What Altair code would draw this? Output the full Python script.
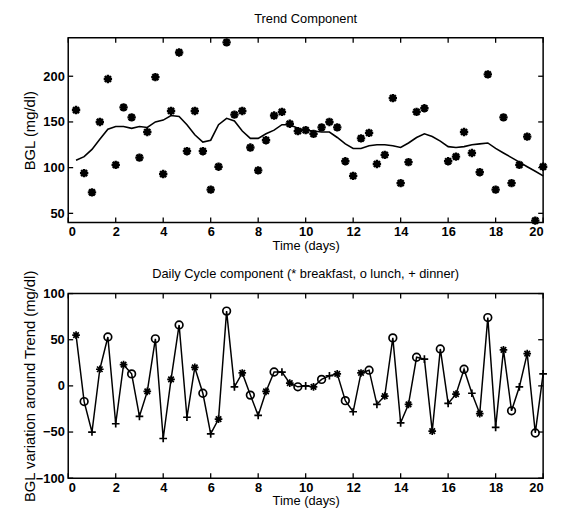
import altair as alt
import pandas as pd

# ---------------- data ----------------
times = [0.33, 0.67, 1.0, 1.33, 1.67, 2.0, 2.33, 2.67, 3.0, 3.33, 3.67, 4.0,
         4.33, 4.67, 5.0, 5.33, 5.67, 6.0, 6.33, 6.67, 7.0, 7.33, 7.67, 8.0,
         8.33, 8.67, 9.0, 9.33, 9.67, 10.0, 10.33, 10.67, 11.0, 11.33, 11.67, 12.0,
         12.33, 12.67, 13.0, 13.33, 13.67, 14.0, 14.33, 14.67, 15.0, 15.33, 15.67, 16.0,
         16.33, 16.67, 17.0, 17.33, 17.67, 18.0, 18.33, 18.67, 19.0, 19.33, 19.67, 20.0]

# measured BGL (mg/dl); two readings are not shown in the top panel
bgl = [163, 94, 73, 150, 197, 103, 166, 155, 111, 139, 199, 93,
       162, 226, 118, 162, 118, 76, 101, 237, 158, 162, 122, 97,
       130, 157, 161, 148, 140, 141, 137, 144, 150, 144, 107, 91,
       132, 138, 104, 114, 176, 83, 106, 161, 165, None, None, 107,
       112, 139, 116, 95, 202, 76, 155, 83, 103, 134, 42, 101]

trend = [108, 112, 120, 131, 142, 145, 145, 143, 145, 144, 150, 152,
         157, 156, 147, 136, 128, 130, 147, 154, 151, 140, 132, 132,
         137, 141, 147, 147, 143, 141, 140, 139, 139, 133, 126, 121,
         121, 124, 125, 125, 124, 122, 127, 133, 137, 134, 129, 123,
         122, 123, 125, 126, 127, 121, 116, 111, 106, 101, 96, 91]

daily = [55, -17, -50, 18, 53, -41, 23, 13, -33, -6, 51, -57,
         7, 66, -34, 20, -8, -52, -36, 81, -1, 14, -10, -32,
         -6, 15, 15, 3, -1, 0, -1, 7, 11, 13, -16, -28,
         14, 17, -20, -11, 52, -40, -20, 31, 29, -49, 40, -19,
         -9, 18, -8, -30, 74, -45, 39, -27, -1, 35, -51, 13]

meal_order = ["breakfast", "lunch", "dinner"]
meals = meal_order * 20

x_ticks = [0, 2, 4, 6, 8, 10, 12, 14, 16, 18, 20]
top_y_ticks = [50, 100, 150, 200]
bot_y_ticks = [-100, -50, 0, 50, 100]

TOP_TITLE = "Trend Component"
BOT_TITLE = "Daily Cycle component (* breakfast, o lunch, + dinner)"
TOP_YT = "BGL  (mg/dl)"
BOT_YT = "BGL variation around Trend (mg/dl)"
X_TITLE = "Time (days)"

# ---------------- styling ----------------
W, H1, H2 = 481, 187, 187
FONT = "Liberation Sans"
TICK = 5
ASTER = "M-1,0L1,0M0,-1L0,1M-0.72,-0.72L0.72,0.72M-0.72,0.72L0.72,-0.72"
PLUS = "M-1,0L1,0M0,-1L0,1"

top_df = pd.DataFrame({"t": times, "bgl": bgl, "trend": trend})
top_pts = top_df.dropna(subset=["bgl"])
bot_df = pd.DataFrame({"t": times, "dev": daily, "meal": meals})
xt_df = pd.DataFrame({"t": x_ticks})

xscale = alt.Scale(domain=[0, 20], nice=False, zero=False)
y1scale = alt.Scale(domain=[40, 242], nice=False, zero=False)
y2scale = alt.Scale(domain=[-100, 100], nice=False, zero=False)


def x_axis():
    return alt.Axis(values=x_ticks, title=X_TITLE, ticks=False, domain=False,
                    grid=False, labelPadding=3, titlePadding=1, format="d",
                    labelFont=FONT, labelFontSize=13, labelFontWeight="bold",
                    labelColor="black", titleFont=FONT, titleFontSize=13,
                    titleFontWeight="normal", titleColor="black")


def y_axis(vals, title):
    return alt.Axis(values=vals, title=title, ticks=False, domain=False, grid=False,
                    labelPadding=4, titlePadding=4, minExtent=27, maxExtent=27,
                    format="d", labelFont=FONT, labelFontSize=13,
                    labelFontWeight="bold", labelColor="black", titleFont=FONT,
                    titleFontSize=15, titleFontWeight="normal", titleColor="black")


def inward_ticks(field, yscale, yvals, ytitle, H):
    yt_df = pd.DataFrame({field: yvals})
    xa = alt.X("t:Q", scale=xscale, axis=x_axis())
    ya = alt.Y(f"{field}:Q", scale=yscale, axis=y_axis(yvals, ytitle))
    xb = alt.Chart(xt_df).mark_rule(color="black", strokeWidth=1.3).encode(
        x=xa, y=alt.value(H), y2=alt.value(H - TICK))
    xtp = alt.Chart(xt_df).mark_rule(color="black", strokeWidth=1.3).encode(
        x=xa, y=alt.value(0), y2=alt.value(TICK))
    yl = alt.Chart(yt_df).mark_rule(color="black", strokeWidth=1.3).encode(
        y=ya, x=alt.value(0), x2=alt.value(TICK))
    yr = alt.Chart(yt_df).mark_rule(color="black", strokeWidth=1.3).encode(
        y=ya, x=alt.value(W), x2=alt.value(W - TICK))
    return [xb, xtp, yl, yr]


def panel_title(text, dy):
    return alt.Chart(pd.DataFrame({"label": [text]})).mark_text(
        font=FONT, fontSize=13, color="black", align="center", baseline="middle"
    ).encode(text="label:N", x=alt.value(W / 2), y=alt.value(dy))


# ---------------- top panel ----------------
top_line = alt.Chart(top_df).mark_line(color="black", strokeWidth=1.6).encode(
    x=alt.X("t:Q", scale=xscale, axis=x_axis()),
    y=alt.Y("bgl:Q", scale=y1scale, axis=y_axis(top_y_ticks, TOP_YT)),
).transform_calculate(bgl="datum.trend")
top_scatter = alt.Chart(top_pts).mark_point(
    shape=ASTER, size=72, filled=False, color="black", strokeWidth=2.4, opacity=1
).encode(
    x=alt.X("t:Q", scale=xscale, axis=x_axis()),
    y=alt.Y("bgl:Q", scale=y1scale, axis=y_axis(top_y_ticks, TOP_YT)),
)
top = alt.layer(top_line, top_scatter,
                *inward_ticks("bgl", y1scale, top_y_ticks, TOP_YT, H1),
                panel_title(TOP_TITLE, -19.5)).properties(width=W, height=H1)

# ---------------- bottom panel ----------------
bot_line = alt.Chart(bot_df).mark_line(color="black", strokeWidth=1.5).encode(
    x=alt.X("t:Q", scale=xscale, axis=x_axis()),
    y=alt.Y("dev:Q", scale=y2scale, axis=y_axis(bot_y_ticks, BOT_YT)),
)
bot_pts = alt.Chart(bot_df).mark_point(
    filled=False, color="black", strokeWidth=1.7, opacity=1, size=60
).encode(
    x=alt.X("t:Q", scale=xscale, axis=x_axis()),
    y=alt.Y("dev:Q", scale=y2scale, axis=y_axis(bot_y_ticks, BOT_YT)),
    shape=alt.Shape("meal:N", scale=alt.Scale(domain=meal_order,
                                              range=[ASTER, "circle", PLUS]),
                    legend=None),
)
bot = alt.layer(bot_line, bot_pts,
                *inward_ticks("dev", y2scale, bot_y_ticks, BOT_YT, H2),
                panel_title(BOT_TITLE, -20)).properties(width=W, height=H2)

chart = alt.vconcat(top, bot, spacing=14).properties(
    padding={"left": 14, "top": 0, "right": 0, "bottom": 0},
    background="white",
).configure_view(stroke="black", strokeWidth=1.5)

chart.save("out.html", embed_options={"renderer": "svg", "actions": False})
